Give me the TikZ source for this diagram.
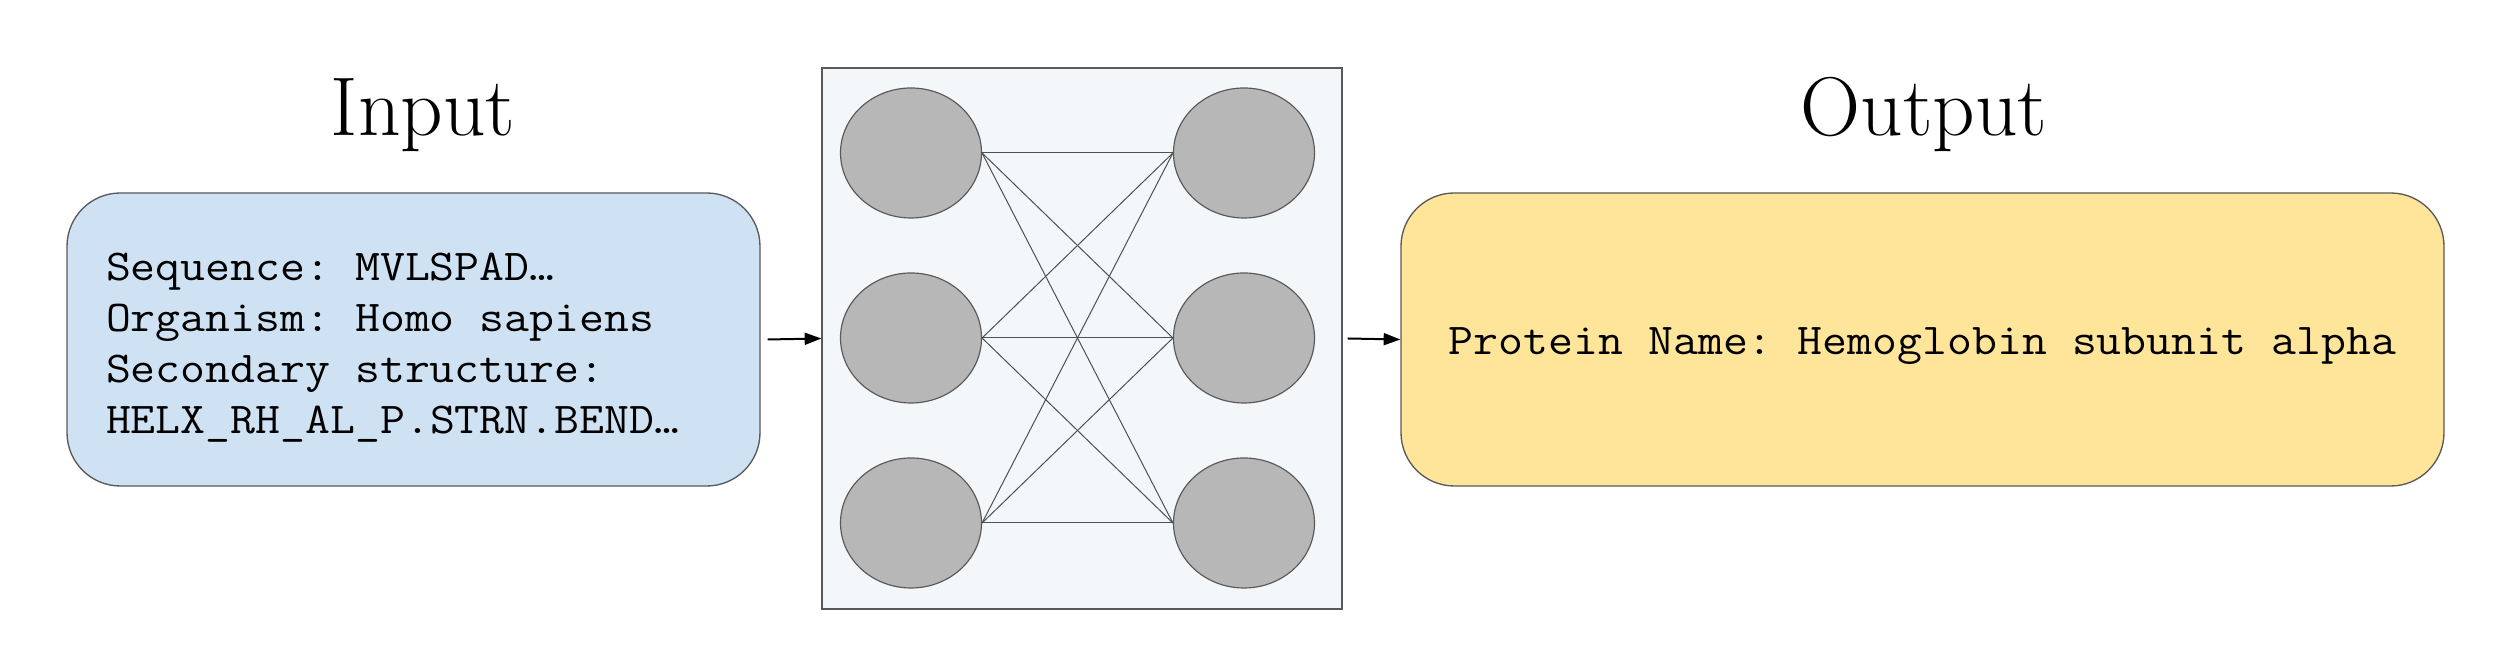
\documentclass[tikz,border=0pt]{standalone}
\usepackage{fontspec}
\newfontfamily\monofont[FakeStretch=1.1]{Latin Modern Mono}
\usetikzlibrary{shapes.geometric,arrows.meta}
\newdimen\pxu \pxu=0.3pt
\newcommand\fixmonospace{\fontdimen2\font=\fontcharwd\font`a\relax
  \fontdimen3\font=0pt\relax\fontdimen4\font=0pt\relax\fontdimen7\font=0pt\relax}
\definecolor{inblue}{HTML}{CFE2F3}
\definecolor{outyellow}{HTML}{FFE599}
\definecolor{nnbg}{HTML}{F3F7FA}
\definecolor{neuron}{HTML}{B7B7B7}
\definecolor{edge}{HTML}{595959}
\tikzset{
  iobox/.style={draw=edge, line width=0.4pt, rounded corners=16pt,
    minimum width=693\pxu, minimum height=293\pxu,
    font=\monofont\fontsize{13.2pt}{15.3pt}\selectfont\fixmonospace\frenchspacing},
  title/.style={anchor=base, font=\fontsize{25pt}{30pt}\selectfont},
  neur/.style={ellipse, draw=edge, line width=0.35pt, fill=neuron,
    minimum width=141\pxu, minimum height=130\pxu, inner sep=0pt},
  link/.style={draw=edge!90!black, line width=0.3pt},
  arr/.style={-{Triangle[length=5pt,width=3.6pt]}, line width=0.6pt, black}
}
\begin{document}
\begin{tikzpicture}[x=0.3pt,y=-0.3pt]
\useasboundingbox[fill=white] (0,0) rectangle (2500,667);
% titles
\node[title] (tin) at (423,136) {Input};
\node[title] (tout) at (1924,136) {Output};
% input box
\node[iobox, fill=inblue, text width=615\pxu, align=flush left] (inbox) at (413.5,339.5)
 {\raisebox{-2.3pt}[\height][\depth]{\parbox{615\pxu}{\raggedright\spaceskip=0pt\xspaceskip=0pt Sequence: MVLSPAD…\\Organism: Homo sapiens\\Secondary structure:\\HELX\_RH\_AL\_P.STRN.BEND…}}};
% output box
\node[iobox, fill=outyellow, minimum width=1043\pxu] (outbox) at (1922.5,339.5)
 {\raisebox{-2pt}[\height][\depth]{Protein Name: Hemoglobin subunit alpha}};
% network box
\node[draw=edge, line width=0.4pt, fill=nnbg, minimum width=520\pxu, minimum height=541\pxu, inner sep=0pt] (nn) at (1082,338.5) {};
% neurons
\node[neur] (L1) at (911,153) {};
\node[neur] (L2) at (911,338) {};
\node[neur] (L3) at (911,523) {};
\node[neur] (R1) at (1244,153) {};
\node[neur] (R2) at (1244,338) {};
\node[neur] (R3) at (1244,523) {};
\foreach \a in {1,2,3}{
  \foreach \b in {1,2,3}{
    \draw[link] (L\a.east) -- (R\b.west);
  }
}
% arrows
\draw[arr] ([xshift=7\pxu]inbox.east) -- (nn.west);
\draw[arr] ([xshift=5\pxu]nn.east) -- (outbox.west);
\end{tikzpicture}
\end{document}
